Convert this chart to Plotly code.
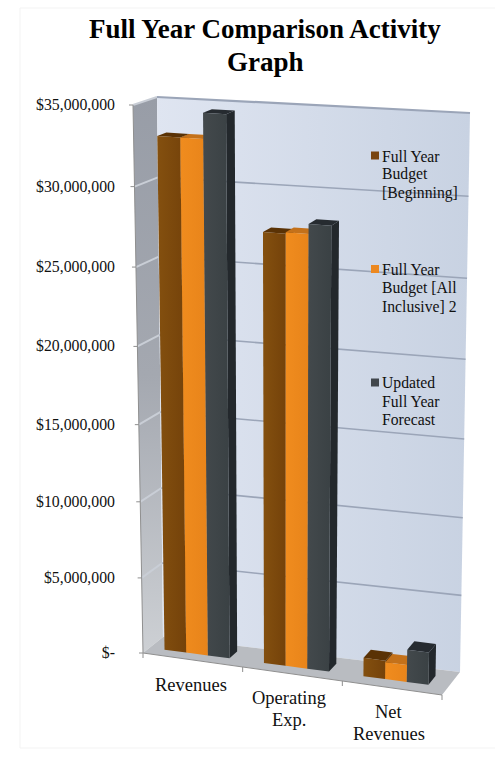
import plotly.graph_objects as go

# Chart content
title_lines = ["Full Year Comparison Activity", "Graph"]
category_lines = [["Revenues"], ["Operating", "Exp."], ["Net", "Revenues"]]
series_lines = [
    ["Full Year", "Budget", "[Beginning]"],
    ["Full Year", "Budget [All", "Inclusive] 2"],
    ["Updated", "Full Year", "Forecast"],
]
budget_beginning = [33.0, 27.55, 1.2]
budget_inclusive = [33.0, 27.65, 1.1]
updated_forecast = [34.6, 28.25, 2.1]
tick_values = [0, 5, 10, 15, 20, 25, 30, 35]
tick_labels = ["$-", "$5,000,000", "$10,000,000", "$15,000,000", "$20,000,000",
               "$25,000,000", "$30,000,000", "$35,000,000"]

FRONT_COLORS = [("#84500f", "#74420a"), ("#f08c1e", "#e8841a"), ("#43494c", "#3a4144")]
SIDE_COLORS = ["#5c3406", "#b86a14", "#23282c"]
TOP_COLORS = ["#5a3205", "#c4711a", "#262b30"]
SWATCH_COLORS = ["#7a4510", "#ec8820", "#41474c"]

# Corners of the oblique view box: (x, y) at (left/right, front/back, floor/top)
BOX = {
    (0, 0, 0): (143, 653), (1, 0, 0): (442, 695), (0, 1, 0): (163, 637), (1, 1, 0): (460, 672),
    (0, 0, 1): (133, 105), (1, 0, 1): (453, 126), (0, 1, 1): (157, 97), (1, 1, 1): (470, 113),
}
VMAX = 35.0
FORESHORTEN = 0.0475
N_CATS = 3


def project(u, d, v):
    """Map category position u, depth d (0 front, 1 back) and value v to the view plane."""
    s = v / VMAX
    t = s * (1 - FORESHORTEN) / (1 - FORESHORTEN * s)
    a = u / N_CATS
    x = y = 0.0
    for i, wa in ((0, 1 - a), (1, a)):
        for j, wd in ((0, 1 - d), (1, d)):
            for k, wt in ((0, 1 - t), (1, t)):
                cx, cy = BOX[(i, j, k)]
                x += wa * wd * wt * cx
                y += wa * wd * wt * cy
    return x, y


def polygon(points, **kwargs):
    xs, ys = zip(*[project(*p) for p in points])
    return go.Scatter(x=list(xs) + [xs[0]], y=list(ys) + [ys[0]], mode="lines",
                      fill="toself", line=dict(width=0), hoverinfo="skip",
                      showlegend=False, **kwargs)


def segment(p, q, color, width):
    xs, ys = zip(project(*p), project(*q))
    return go.Scatter(x=list(xs), y=list(ys), mode="lines", hoverinfo="skip",
                      showlegend=False, line=dict(color=color, width=width))


def grad(kind, *stops):
    last = len(stops) - 1
    return dict(type=kind, colorscale=[[i / last, c] for i, c in enumerate(stops)])


fig = go.Figure()

# Walls and floor
fig.add_trace(polygon([(0, 0, 0), (0, 1, 0), (0, 1, VMAX), (0, 0, VMAX)],
                      fillgradient=grad("vertical", "#cdd0d4", "#a4a8b0", "#989da7"), fillcolor="#b0b4bb"))
fig.add_trace(polygon([(0, 1, 0), (3, 1, 0), (3, 1, VMAX), (0, 1, VMAX)],
                      fillgradient=grad("horizontal", "#dfe5f1", "#c8d2e2"), fillcolor="#d4dbe9"))
fig.add_trace(polygon([(0, 0, 0), (3, 0, 0), (3, 1, 0), (0, 1, 0)], fillcolor="#b9bcc1"))

# Gridlines across both walls
for v in tick_values[1:]:
    width = 2.2 if v == VMAX else 1.6
    fig.add_trace(segment((0, 0, v), (0, 1, v), "#c9ced6", 2))
    fig.add_trace(segment((0, 1, v), (3, 1, v), "#9ba5b8", width))

# Axis lines with tick marks
fig.add_trace(segment((0, 0, 0), (0, 0, VMAX), "#8f8f8f", 1))
fig.add_trace(segment((0, 0, 0), (3, 0, 0), "#8f8f8f", 1))
for v in tick_values:
    x, y = project(0, 0, v)
    fig.add_trace(go.Scatter(x=[x - 4, x], y=[y, y], mode="lines", hoverinfo="skip",
                             showlegend=False, line=dict(color="#8f8f8f", width=1)))
for c in range(N_CATS + 1):
    x, y = project(c, 0, 0)
    fig.add_trace(go.Scatter(x=[x, x], y=[y, y + 5], mode="lines", hoverinfo="skip",
                             showlegend=False, line=dict(color="#8f8f8f", width=1)))

# Bars, drawn left to right so that each front face covers its neighbour's side
BAR_W = 0.218
GAP = 0.15
D0, D1 = 0.33, 0.72
for c in range(N_CATS):
    for s, values in enumerate((budget_beginning, budget_inclusive, updated_forecast)):
        v = values[c]
        u0 = c + GAP + s * BAR_W
        u1 = u0 + BAR_W
        fig.add_trace(polygon([(u1, D0, 0), (u1, D1, 0), (u1, D1, v), (u1, D0, v)],
                              fillcolor=SIDE_COLORS[s]))
        fig.add_trace(polygon([(u0, D0, v), (u1, D0, v), (u1, D1, v), (u0, D1, v)],
                              fillcolor=TOP_COLORS[s]))
        fig.add_trace(polygon([(u0, D0, 0), (u1, D0, 0), (u1, D0, v), (u0, D0, v)],
                              fillgradient=grad("horizontal", *FRONT_COLORS[s]),
                              fillcolor=FRONT_COLORS[s][0]))

FONT = "Liberation Serif"
TEXT = "#111111"


def text_block(lines, x, y, spacing, size, anchor="center", color=TEXT, bold=False):
    """Place lines one by one so the leading can be tighter than the default."""
    for i, line in enumerate(lines):
        fig.add_annotation(x=x, y=y + i * spacing, text=f"<b>{line}</b>" if bold else line,
                           showarrow=False, xanchor=anchor, yanchor="middle",
                           font=dict(family=FONT, size=size, color=color))


# Value labels, right aligned beside the axis
label_y = [project(0, 0, v)[1] + 1 for v in tick_values]
fig.add_trace(go.Scatter(x=[115] * len(tick_values), y=label_y, mode="text", text=tick_labels,
                         textposition="middle left", hoverinfo="skip", showlegend=False,
                         textfont=dict(family=FONT, size=15.8, color=TEXT)))

# Category labels
label_pos = [(191, 685), (288.5, 698), (389, 712)]
for lines, (x, y) in zip(category_lines, label_pos):
    text_block(lines, x, y, 22, 18.5)

# Legend swatches and entries
legend_y = [155.5, 269, 382.5]
for lines, color, y in zip(series_lines, SWATCH_COLORS, legend_y):
    fig.add_trace(go.Scatter(x=[375], y=[y], mode="markers", hoverinfo="skip", showlegend=False,
                             marker=dict(symbol="square", size=8, color=color, line=dict(width=0))))
    text_block(lines, 380, y + 0.5, 18.3, 15.7, anchor="left")

# Faint frame around the chart area
fig.add_shape(type="rect", x0=20, y0=8, x1=500, y1=748, line=dict(color="#f3f3f3", width=1), layer="below")

text_block(title_lines, 265, 29, 33, 27, color="#000000", bold=True)

fig.update_layout(
    width=495, height=773, margin=dict(l=0, r=0, t=0, b=0),
    paper_bgcolor="white", plot_bgcolor="white", showlegend=False,
    xaxis=dict(range=[0, 495], visible=False, fixedrange=True),
    yaxis=dict(range=[773, 0], visible=False, fixedrange=True),
)
fig.write_html("out.html", config=dict(displayModeBar=False))
